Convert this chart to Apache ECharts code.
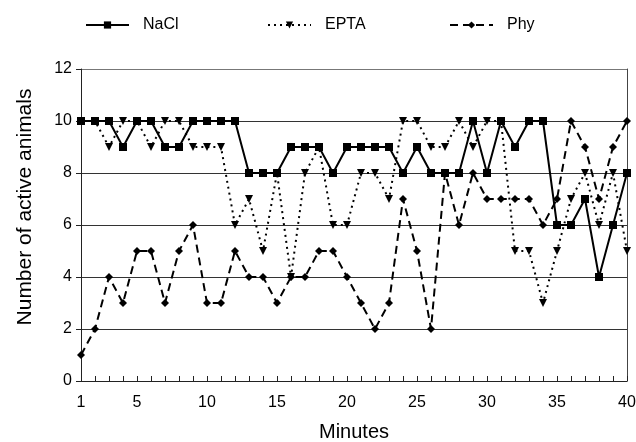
<!DOCTYPE html>
<html>
<head>
<meta charset="utf-8">
<title>ECharts</title>
<script src="https://cdn.jsdelivr.net/npm/echarts@6/dist/echarts.min.js"></script>
<style>
  html, body { margin: 0; padding: 0; background: #fff; }
</style>
</head>
<body>
<div id="main" style="width: 636px;height:442px;"></div>
<script type="text/javascript">
// minutes on the x axis
var minutes = ['1','2','3','4','5','6','7','8','9','10',
               '11','12','13','14','15','16','17','18','19','20',
               '21','22','23','24','25','26','27','28','29','30',
               '31','32','33','34','35','36','37','38','39','40'];

// number of active animals per group
var nacl = [10,10,10,9,10,10,9,9,10,10, 10,10,8,8,8,9,9,9,8,9,
            9,9,9,8,9,8,8,8,10,8, 10,9,10,10,6,6,7,4,6,8];
var epta = [10,10,9,10,10,9,10,10,9,9, 9,6,7,5,8,4,8,9,6,6,
            8,8,7,10,10,9,9,10,9,10, 10,5,5,3,5,7,8,6,8,5];
var phy  = [1,2,4,3,5,5,3,5,6,3, 3,5,4,4,3,4,4,5,5,4,
            3,2,3,7,5,2,8,6,8,7, 7,7,7,6,7,10,9,7,9,10];

var yTicks = [0, 2, 4, 6, 8, 10, 12];

var font = 'Liberation Sans, Arial, sans-serif';
var myChart = echarts.init(document.getElementById('main'));

// one legend per series so each sits where the original puts it
function mkLegend(name, left) {
    return {
        data: [name],
        left: left,
        top: 12,
        itemWidth: 43,
        itemHeight: 9,
        textStyle: { fontFamily: font, fontSize: 16, color: '#000', padding: [0, 0, 0, 9] }
    };
}

var option = {
    animation: false,
    backgroundColor: '#fff',
    legend: [mkLegend('NaCl', 80), mkLegend('EPTA', 262), mkLegend('Phy', 444)],
    grid: { left: 81, right: 9, top: 69, bottom: 61, outerBoundsMode: 'none' },
    xAxis: {
        type: 'category',
        data: minutes,
        boundaryGap: false,
        name: 'Minutes',
        nameLocation: 'middle',
        nameGap: 41,
        nameTextStyle: { fontFamily: font, fontSize: 20, color: '#000' },
        axisLine: { lineStyle: { color: '#222', width: 1 } },
        axisTick: { interval: 0, inside: true, length: 5, lineStyle: { color: '#222' } },
        axisLabel: {
            interval: function (i, v) { return v === '1' || Number(v) % 5 === 0; },
            fontFamily: font, fontSize: 16, color: '#000', margin: 14
        },
        splitLine: { show: false }
    },
    yAxis: [{
        type: 'value',
        min: yTicks[0],
        max: yTicks[yTicks.length - 1],
        interval: 2,
        name: 'Number of active animals',
        nameLocation: 'middle',
        nameGap: 45,
        nameTextStyle: { fontFamily: font, fontSize: 21, color: '#000', padding: [0, 0, 0, 36] },
        axisLine: { show: true, lineStyle: { color: '#222', width: 1 } },
        axisTick: { show: true, length: 5, lineStyle: { color: '#222' } },
        axisLabel: { fontFamily: font, fontSize: 16, color: '#000', margin: 9 },
        splitLine: {
            show: true,
            lineStyle: { color: ['transparent', '#333', '#333', '#333', '#333', '#333', '#777'], width: 1 }
        }
    }, {
        type: 'value',
        position: 'right',
        min: yTicks[0],
        max: yTicks[yTicks.length - 1],
        interval: 2,
        axisLine: { show: true, lineStyle: { color: '#444', width: 1 } },
        axisTick: { show: false },
        axisLabel: { show: false },
        splitLine: { show: false }
    }],
    series: [{
        name: 'NaCl',
        type: 'line',
        data: nacl,
        symbol: 'rect',
        symbolSize: 8,
        itemStyle: { color: '#000' },
        lineStyle: { color: '#000', width: 2, type: 'solid' },
        z: 4
    }, {
        name: 'EPTA',
        type: 'line',
        data: epta,
        symbol: 'triangle',
        symbolRotate: 180,
        symbolSize: 8,
        itemStyle: { color: '#000' },
        lineStyle: { color: '#000', width: 2, type: [2, 4] },
        z: 3
    }, {
        name: 'Phy',
        type: 'line',
        data: phy,
        symbol: 'diamond',
        symbolSize: 8,
        itemStyle: { color: '#000' },
        lineStyle: { color: '#000', width: 2, type: [8, 5] },
        z: 3
    }]
};

myChart.setOption(option);
</script>
</body>
</html>
